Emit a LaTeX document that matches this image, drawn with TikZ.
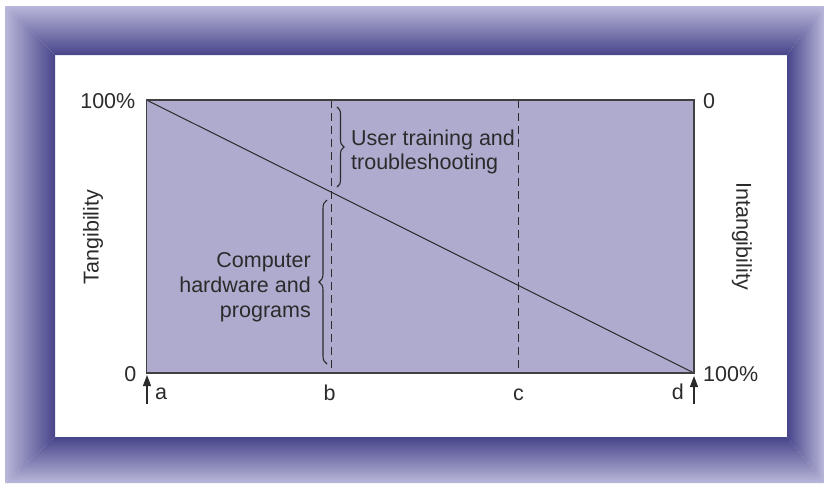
\documentclass[tikz,border=0pt]{standalone}
\usepackage{fontspec}
\setmainfont{Liberation Sans}
\usetikzlibrary{decorations.pathreplacing,arrows.meta}
\definecolor{frameLight}{HTML}{B9B7D9}
\definecolor{frameDark}{HTML}{47458A}
\definecolor{plotFill}{HTML}{AFABCF}
\definecolor{ink}{HTML}{2B2B2B}
\begin{document}
\begin{tikzpicture}[x=1pt,y=-1pt,
  lbl/.style={font=\fontsize{21.5}{24}\selectfont, text=ink, inner sep=0pt},
  plotframe/.style={draw=ink!90, line width=1.6pt, fill=plotFill},
  thin/.style={draw=ink, line width=1pt},
  divider/.style={draw=ink, line width=1pt, dash pattern=on 8pt off 5pt},
  bracebar/.style={draw=ink, line width=1.1pt, decorate, decoration={brace, amplitude=#1}},
  pointer/.style={draw=ink, line width=1.1pt, -{Triangle[length=11pt,width=8pt]}}
]
\useasboundingbox (0,0) rectangle (824,483);
% bevelled frame
\begin{scope}
\clip (5,6) -- (55,55) -- (55,437) -- (5,483) -- cycle;
\shade[left color=frameLight, right color=frameDark] (5,6) rectangle (55,483);
\end{scope}
\begin{scope}
\clip (5,6) -- (824,6) -- (787,55) -- (55,55) -- cycle;
\shade[top color=frameLight, bottom color=frameDark] (5,6) rectangle (824,55);
\end{scope}
\begin{scope}
\clip (824,6) -- (824,483) -- (787,437) -- (787,55) -- cycle;
\shade[left color=frameDark, right color=frameLight] (787,6) rectangle (824,483);
\end{scope}
\begin{scope}
\clip (5,483) -- (824,483) -- (787,437) -- (55,437) -- cycle;
\shade[top color=frameDark, bottom color=frameLight] (5,437) rectangle (824,483);
\end{scope}
% plot area
\coordinate (TL) at (146.5,100);
\coordinate (TR) at (694,100);
\coordinate (BL) at (146.5,373);
\coordinate (BR) at (694,373);
\path[plotframe] (TL) rectangle (BR);
\draw[thin] (TL) -- (BR);
\coordinate (bT) at (331,100);
\coordinate (bB) at (331,373);
\coordinate (cT) at (518,100);
\coordinate (cB) at (518,373);
\draw[divider] (bT) -- (bB);
\draw[divider] (cT) -- (cB);
\draw[plotframe, fill=none] (TL) rectangle (BR);
% scale labels
\node[lbl, anchor=base east] (l100) at (135.5,108) {100\%};
\node[lbl, anchor=base west] (r0) at (703,108) {0};
\node[lbl, anchor=base east] (l0) at (136.5,381) {0};
\node[lbl, anchor=base west] (r100) at (703,381) {100\%};
% point labels
\node[lbl, anchor=base west] (la) at (155,399) {a};
\node[lbl, anchor=base] (lb) at (329.5,400) {b};
\node[lbl, anchor=base] (lc) at (518.5,400) {c};
\node[lbl, anchor=base east] (ld) at (684,399) {d};
\coordinate (aB) at (147,404);
\coordinate (aT) at (147,375);
\coordinate (dB) at (694,404);
\coordinate (dT) at (694,376);
\draw[pointer] (aB) -- (aT);
\draw[pointer] (dB) -- (dT);
% axis titles
\node[lbl, rotate=90] (tang) at (93,237) {Tangibility};
\node[lbl, rotate=-90] (intang) at (742,236) {Intangibility};
% braces and their texts
\coordinate (ubT) at (337,107);
\coordinate (ubB) at (337,187);
\draw[bracebar=7pt] (ubT) -- (ubB);
\node[lbl, align=left, anchor=west] (user) at (351,151.5) {User training and\\troubleshooting};
\coordinate (lbB) at (327,364);
\coordinate (lbT) at (327,200);
\draw[bracebar=8pt] (lbB) -- (lbT);
\node[lbl, align=right, anchor=east, font=\fontsize{21.5}{25}\selectfont] (comp) at (311,287) {Computer\\hardware and\\programs};
\end{tikzpicture}
\end{document}
